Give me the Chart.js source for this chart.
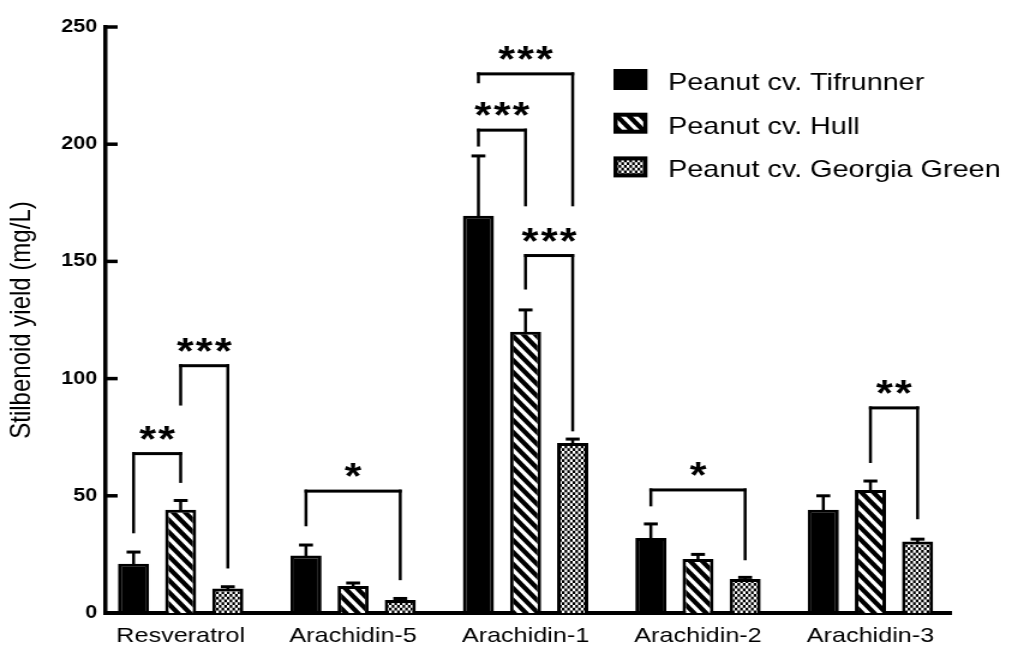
<!DOCTYPE html>
<html>
<head>
<meta charset="utf-8">
<script src="https://cdn.jsdelivr.net/npm/chart.js@4.4.1/dist/chart.umd.min.js"></script>
<style>
  html, body { margin: 0; padding: 0; background: #fff; overflow: hidden; }
  #stage { position: absolute; left: 0; top: 0; width: 1012px; height: 655px; overflow: hidden; background: #fff; }
  /* the figure is drawn on a narrower canvas and widened horizontally */
  #chart { position: absolute; left: 0; top: 0; transform: scaleX(1.2005); transform-origin: 0 0; }
</style>
</head>
<body>
<div id="stage"><canvas id="chart" width="843" height="655"></canvas></div>
<script>
const categories = ['Resveratrol', 'Arachidin-5', 'Arachidin-1', 'Arachidin-2', 'Arachidin-3'];
const seriesNames = ['Peanut cv. Tifrunner', 'Peanut cv. Hull', 'Peanut cv. Georgia Green'];

const tifrunner       = [21, 24.5, 169.5, 32, 44];
const tifrunnerErr    = [5, 4.5, 25.5, 6, 6];
const hull            = [44, 11.5, 120, 23, 52.5];
const hullErr         = [4, 1.3, 9.3, 2, 3.8];
const georgiaGreen    = [10.5, 5.5, 72.5, 14.5, 30.5];
const georgiaGreenErr = [0.7, 0.7, 1.7, 0.7, 1];

const yTicks = [0, 50, 100, 150, 200, 250];

// significance comparisons:
// category, first series, second series, bracket height, first leg end, second leg end, mark
const comparisons = [
  [0, 0, 1, 68,    34,   55.5,  '**'],
  [0, 1, 2, 105.5, 88.5, 19,    '***'],
  [1, 0, 2, 52,    37,   14,    '*'],
  [2, 0, 1, 206,   199,  173.5, '***'],
  [2, 0, 2, 230,   226,  173.5, '***'],
  [2, 1, 2, 152.5, 138,  77.5,  '***'],
  [3, 0, 2, 52.5,  45.5, 22.5,  '*'],
  [4, 1, 2, 87.5,  64,   40,    '**']
];

const FONT = "'Liberation Sans', Arial, Helvetica, sans-serif";
const canvas = document.getElementById('chart');
const ctx0 = canvas.getContext('2d');

// small anti-aliased fill tiles for the hatched and checkered bars
function makePattern(w, h, isWhite) {
  const tile = document.createElement('canvas');
  tile.width = w; tile.height = h;
  const g = tile.getContext('2d');
  const img = g.createImageData(w, h);
  const ss = 4;
  for (let py = 0; py < h; py++) {
    for (let px = 0; px < w; px++) {
      let c = 0;
      for (let j = 0; j < ss; j++) {
        for (let i = 0; i < ss; i++) {
          if (isWhite(px + (i + 0.5) / ss, py + (j + 0.5) / ss)) c++;
        }
      }
      const v = Math.round(255 * c / (ss * ss));
      const k = (py * w + px) * 4;
      img.data[k] = img.data[k + 1] = img.data[k + 2] = v;
      img.data[k + 3] = 255;
    }
  }
  g.putImageData(img, 0, 0);
  return ctx0.createPattern(tile, 'repeat');
}
const frac = v => v - Math.floor(v);
const stripes = makePattern(10, 12, (x, y) => frac(x / 10 - y / 12) < 0.45);
const checks = makePattern(9, 11, (x, y) => (Math.floor(x / 2.25) + Math.floor(y / 2.75)) % 2 === 0);

const seriesValues = [tifrunner, hull, georgiaGreen];
const seriesErrors = [tifrunnerErr, hullErr, georgiaGreenErr];
const seriesFills = ['#000000', stripes, checks];

// inward ticks, error bars and significance brackets
const annotate = {
  id: 'annotate',
  afterDatasetsDraw(chart) {
    const { ctx, chartArea } = chart;
    const y = chart.scales.y;
    ctx.save();
    ctx.fillStyle = '#000';

    y.ticks.forEach(t => {
      const py = y.getPixelForValue(t.value);
      ctx.fillRect(chartArea.left, py - 1.75, 10, 3.5);
    });

    chart.data.datasets.forEach((ds, s) => {
      const meta = chart.getDatasetMeta(s);
      meta.data.forEach((bar, i) => {
        const top = y.getPixelForValue(ds.data[i].y + seriesErrors[s][i]);
        ctx.fillRect(bar.x - 1.25, top, 2.5, bar.y - top + 1);
        ctx.fillRect(bar.x - 5.8, top - 1.5, 11.6, 3);
      });
    });

    ctx.font = `bold 36px ${FONT}`;
    ctx.textAlign = 'center';
    ctx.textBaseline = 'alphabetic';
    const m = ctx.measureText('*');
    comparisons.forEach(([cat, a, b, topV, endA, endB, mark]) => {
      const xa = chart.getDatasetMeta(a).data[cat].x;
      const xb = chart.getDatasetMeta(b).data[cat].x;
      const yt = y.getPixelForValue(topV);
      const ya = y.getPixelForValue(endA);
      const yb = y.getPixelForValue(endB);
      const vw = 2.5, hw = 3;
      ctx.fillRect(xa - vw / 2, yt - hw / 2, xb - xa + vw, hw);
      ctx.fillRect(xa - vw / 2, yt - hw / 2, vw, ya - yt + hw / 2);
      ctx.fillRect(xb - vw / 2, yt - hw / 2, vw, yb - yt + hw / 2);
      const cy = yt - 21;
      const base = cy + (m.actualBoundingBoxAscent - m.actualBoundingBoxDescent) / 2;
      const mid = (xa + xb) / 2;
      const n = mark.length;
      for (let k = 0; k < n; k++) {
        ctx.fillText('*', mid + (k - (n - 1) / 2) * 15.8, base);
      }
    });
    ctx.restore();
  }
};

// legend in the upper right corner
const legendBox = {
  id: 'legendBox',
  afterDraw(chart) {
    const { ctx } = chart;
    ctx.save();
    ctx.font = `24px ${FONT}`;
    ctx.textAlign = 'left';
    ctx.textBaseline = 'alphabetic';
    chart.data.datasets.forEach((ds, s) => {
      const cy = 79.5 + s * 43.7;
      const bx = 511, bw = 28.3, bh = 21;
      ctx.fillStyle = '#000';
      ctx.fillRect(bx, cy - bh / 2, bw, bh);
      if (s > 0) {
        ctx.fillStyle = ds.backgroundColor;
        ctx.fillRect(bx + 3.5, cy - bh / 2 + 4, bw - 7, bh - 8);
      }
      ctx.fillStyle = '#000';
      ctx.fillText(ds.label, 556.5, cy + 10.5);
    });
    ctx.restore();
  }
};

new Chart(canvas, {
  type: 'bar',
  data: {
    datasets: seriesNames.map((name, s) => ({
      label: name,
      data: seriesValues[s].map((v, i) => ({ x: i, y: v })),
      backgroundColor: seriesFills[s],
      borderColor: '#000000',
      borderWidth: 3,
      borderSkipped: 'start',
      categoryPercentage: 0.82,
      barPercentage: 0.66
    }))
  },
  options: {
    responsive: false,
    animation: false,
    devicePixelRatio: 1,
    events: [],
    layout: { padding: { top: 27, right: 51, left: 0, bottom: 0 } },
    plugins: {
      legend: { display: false },
      tooltip: { enabled: false }
    },
    scales: {
      x: {
        type: 'linear',
        offset: false,
        min: -0.435,
        max: 4.466,
        grid: { display: false, drawTicks: false, offset: false },
        border: { display: true, color: '#000', width: 4 },
        afterBuildTicks: scale => { scale.ticks = categories.map((c, i) => ({ value: i })); },
        afterFit: scale => { scale.height = 42; scale.paddingLeft = 0; scale.paddingRight = 0; },
        ticks: {
          autoSkip: false,
          maxRotation: 0,
          padding: 11,
          color: '#000',
          font: { family: FONT, size: 21 },
          callback: v => categories[v]
        }
      },
      y: {
        min: 0,
        max: 250,
        grid: { display: false, drawTicks: false },
        border: { display: true, color: '#000', width: 3.5 },
        afterBuildTicks: scale => { scale.ticks = yTicks.map(v => ({ value: v })); },
        afterFit: scale => { scale.width = 88; scale.paddingTop = 0; scale.paddingBottom = 0; },
        ticks: {
          padding: 7,
          color: '#000',
          font: { family: FONT, size: 18, weight: 'bold' }
        },
        title: {
          display: true,
          text: 'Stilbenoid yield (mg/L)',
          color: '#000',
          font: { family: FONT, size: 24 },
          padding: { top: 4, bottom: 0 }
        }
      }
    }
  },
  plugins: [annotate, legendBox]
});
</script>
</body>
</html>
